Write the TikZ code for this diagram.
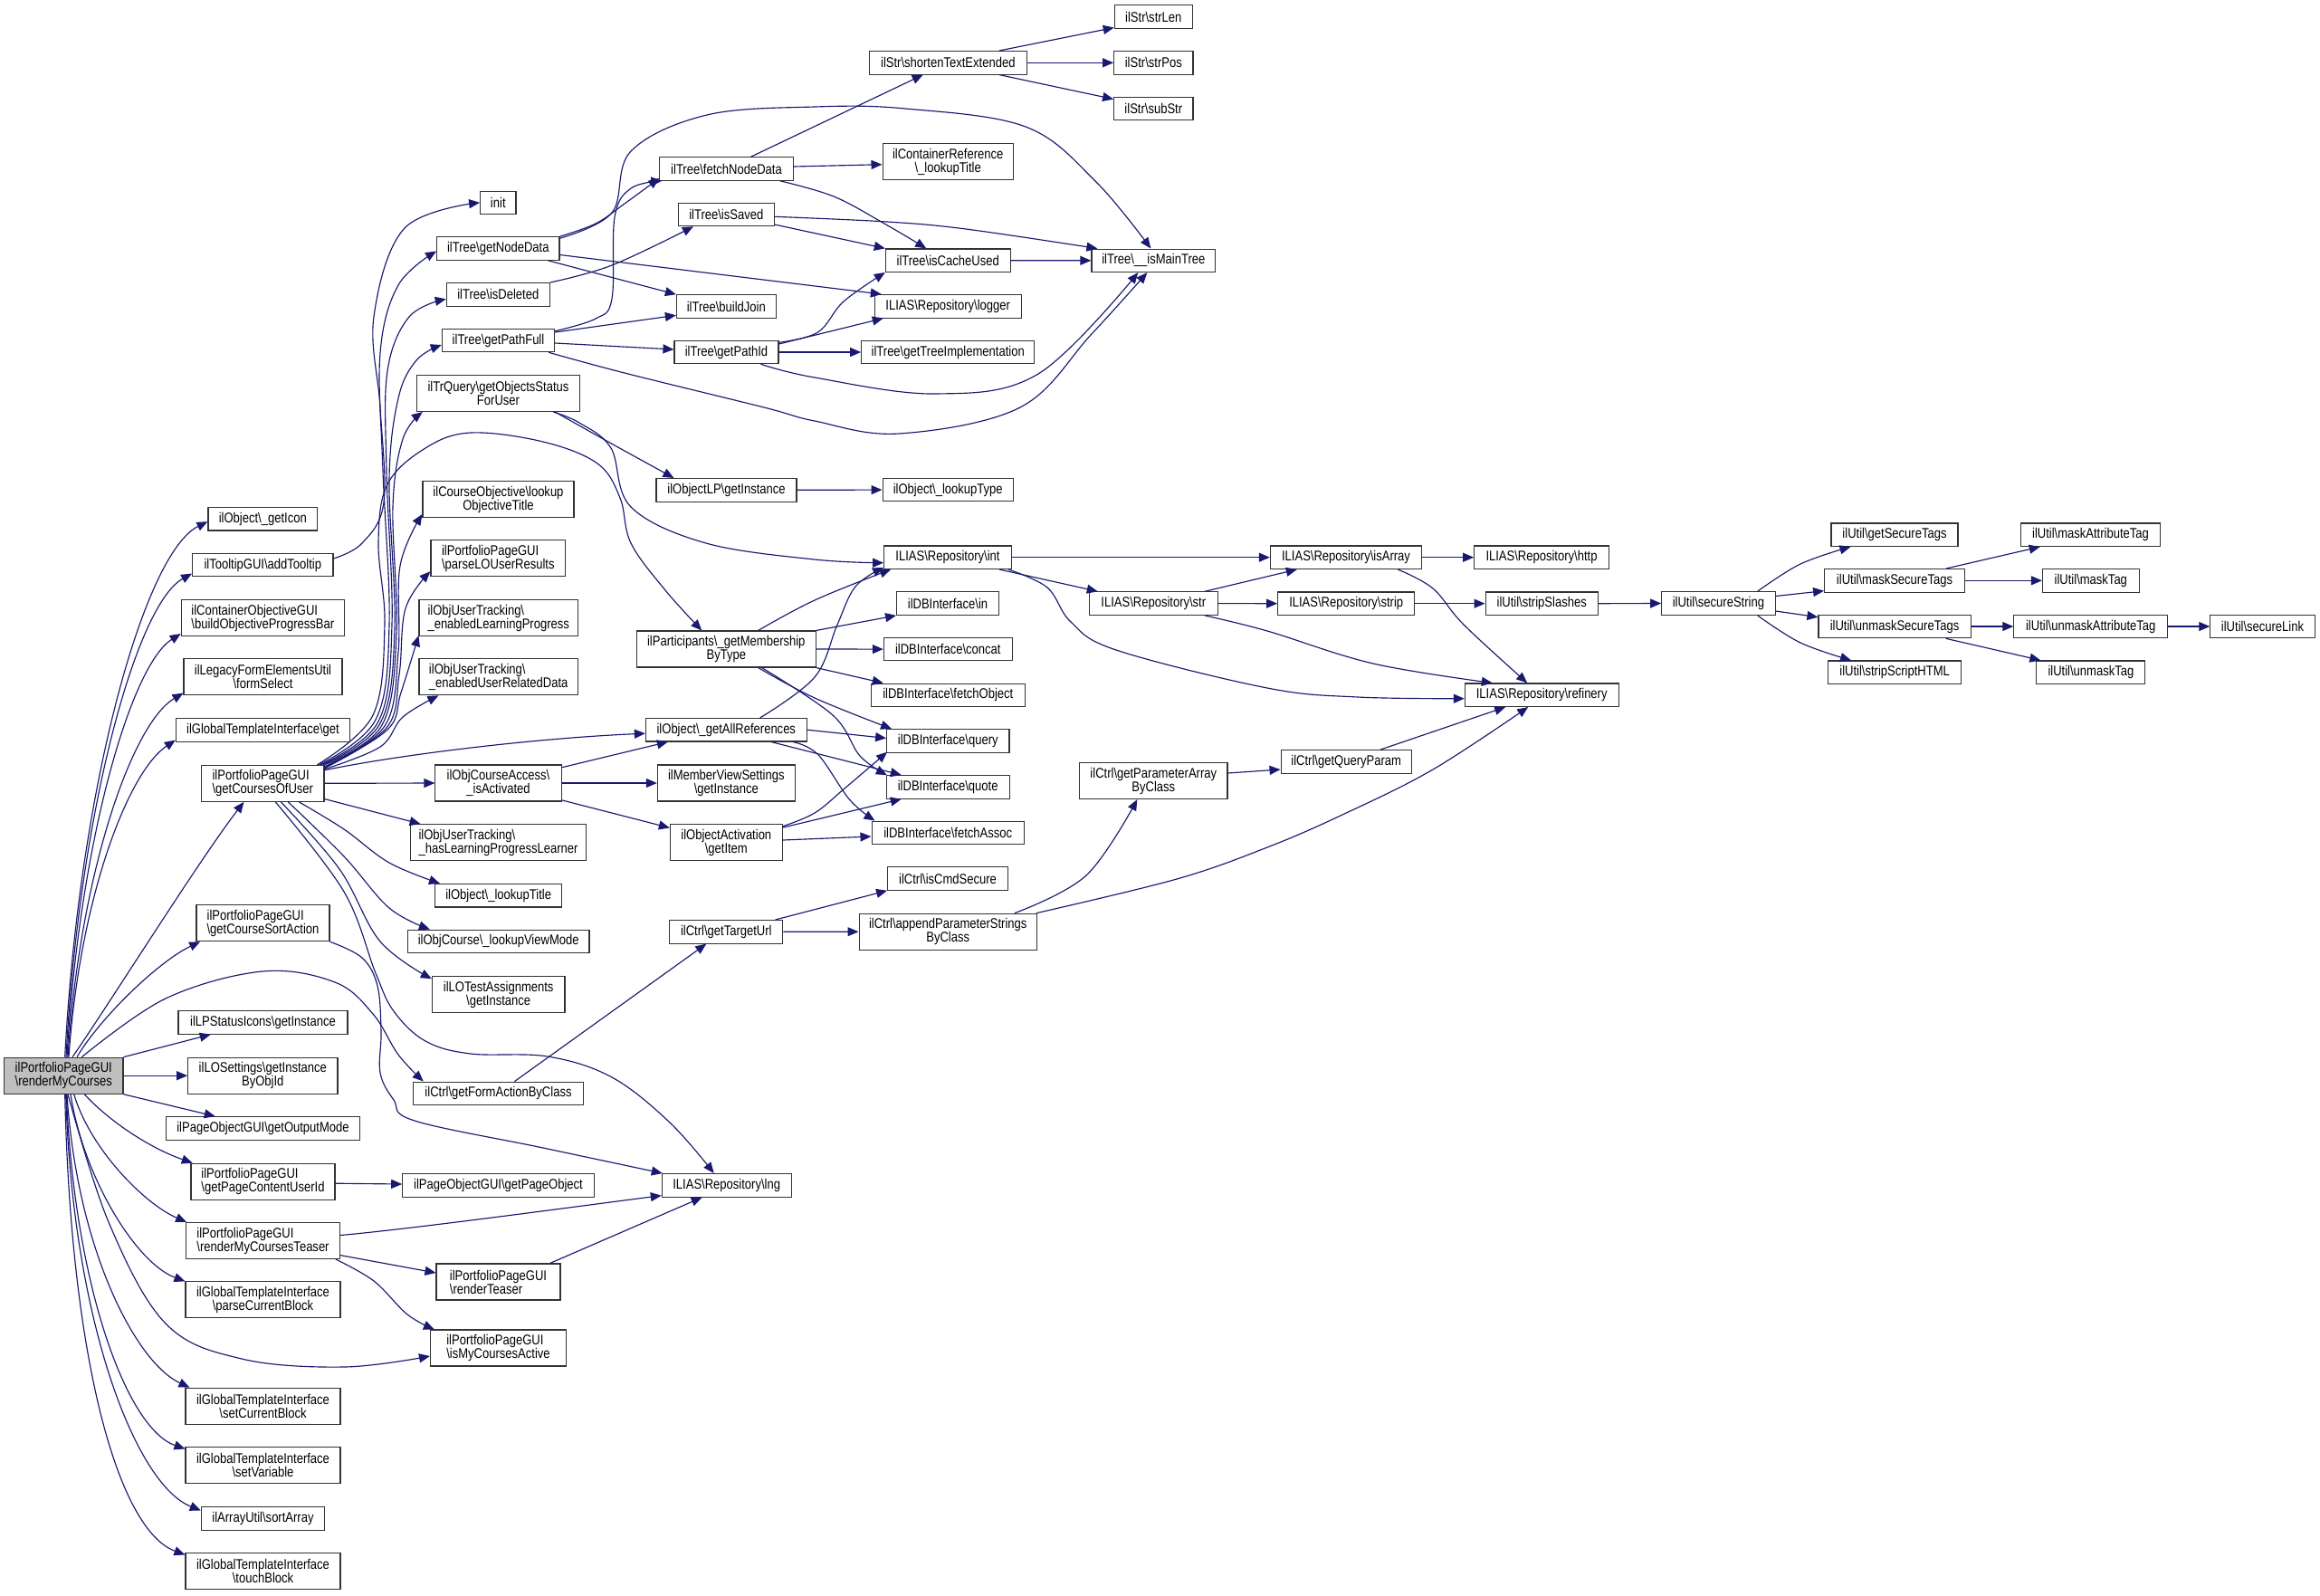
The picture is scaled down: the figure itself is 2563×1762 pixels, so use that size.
\documentclass[tikz,border=0pt]{standalone}
\usepackage{fontspec}
\setmainfont{Liberation Sans}[FakeStretch=0.84]
\usetikzlibrary{arrows.meta}
\definecolor{edgeblue}{HTML}{191970}
\definecolor{rootgray}{HTML}{BFBFBF}
\newcommand{\bksl}{\textbackslash}
\begin{document}
\begin{tikzpicture}[x=1pt,y=-1pt,
  box/.style={draw=black!80,line width=1.1pt,fill=white,inner sep=0pt,
    font=\fontsize{15.5pt}{15pt}\selectfont,align=center,minimum height=25.5pt},
  tall/.style={minimum height=40pt},
  lft/.style={align=left},
  cg/.style={draw=edgeblue,line width=1.15pt,-{Triangle[length=12pt,width=10pt]}}]
\useasboundingbox (0,0) rectangle (2563,1762);

% root
\node[box,tall,lft,fill=rootgray,minimum width=131.3] (rmc) at (70.3,1188.2) {ilPortfolioPageGUI\\\bksl renderMyCourses};

% column 2
\node[box,minimum width=120.7] (geticon) at (290.3,573.2) {ilObject\bksl\_getIcon};
\node[box,minimum width=155.3] (addtt) at (290.3,624) {ilTooltipGUI\bksl addTooltip};
\node[box,tall,lft,minimum width=180] (bopb) at (290.3,682.5) {ilContainerObjectiveGUI\\\bksl buildObjectiveProgressBar};
\node[box,tall,minimum width=175] (fsel) at (290.5,747.8) {ilLegacyFormElementsUtil\\\bksl formSelect};
\node[box,minimum width=192.3] (gtiget) at (290.5,806.6) {ilGlobalTemplateInterface\bksl get};
\node[box,tall,lft,minimum width=135.3] (gcu) at (290.3,865.3) {ilPortfolioPageGUI\\\bksl getCoursesOfUser};
\node[box,tall,lft,minimum width=147] (gcsa) at (290.5,1019.7) {ilPortfolioPageGUI\\\bksl getCourseSortAction};
\node[box,minimum width=187] (lpsi) at (290.5,1129.4) {ilLPStatusIcons\bksl getInstance};
\node[box,tall,minimum width=165.3] (los) at (290.3,1188.2) {ilLOSettings\bksl getInstance\\ByObjId};
\node[box,minimum width=213.7] (pogom) at (290.5,1246.4) {ilPageObjectGUI\bksl getOutputMode};
\node[box,tall,lft,minimum width=159] (gpcu) at (290.5,1305.2) {ilPortfolioPageGUI\\\bksl getPageContentUserId};
\node[box,tall,lft,minimum width=169.7] (rmct) at (290.5,1370.5) {ilPortfolioPageGUI\\\bksl renderMyCoursesTeaser};
\node[box,tall,minimum width=171] (pcb) at (290.5,1435.9) {ilGlobalTemplateInterface\\\bksl parseCurrentBlock};
\node[box,tall,minimum width=171] (scb) at (290.5,1553.2) {ilGlobalTemplateInterface\\\bksl setCurrentBlock};
\node[box,tall,minimum width=171] (sv) at (290.5,1618.6) {ilGlobalTemplateInterface\\\bksl setVariable};
\node[box,minimum width=136.3] (sa) at (290.5,1677.5) {ilArrayUtil\bksl sortArray};
\node[box,tall,minimum width=171] (tb) at (290.5,1735.9) {ilGlobalTemplateInterface\\\bksl touchBlock};

% column 3
\node[box,minimum width=39.3] (init) at (550.3,223.8) {init};
\node[box,minimum width=135.3] (gnd) at (550.3,274.5) {ilTree\bksl getNodeData};
\node[box,minimum width=114] (isdel) at (550.3,325.3) {ilTree\bksl isDeleted};
\node[box,minimum width=124.3] (gpf) at (550.5,376) {ilTree\bksl getPathFull};
\node[box,tall,minimum width=180.3] (trq) at (550.5,434.5) {ilTrQuery\bksl getObjectsStatus\\ForUser};
\node[box,tall,minimum width=167] (cobj) at (550.5,551.5) {ilCourseObjective\bksl lookup\\ObjectiveTitle};
\node[box,tall,lft,minimum width=148.7] (plo) at (550.3,616.7) {ilPortfolioPageGUI\\\bksl parseLOUserResults};
\node[box,tall,lft,minimum width=175.4] (elp) at (550.7,682.5) {ilObjUserTracking\bksl\\\_enabledLearningProgress};
\node[box,tall,lft,minimum width=175.4] (eurd) at (550.7,747.8) {ilObjUserTracking\bksl\\\_enabledUserRelatedData};
\node[box,tall,minimum width=139.2] (isact) at (550.5,865) {ilObjCourseAccess\bksl\\\_isActivated};
\node[box,tall,lft,minimum width=194.7] (hlpl) at (550.5,930.7) {ilObjUserTracking\bksl\\\_hasLearningProgressLearner};
\node[box,minimum width=140.3] (olt) at (550.7,989.2) {ilObject\bksl\_lookupTitle};
\node[box,minimum width=200.6] (ocvm) at (550.7,1039.8) {ilObjCourse\bksl\_lookupViewMode};
\node[box,tall,minimum width=146.6] (lota) at (550.7,1098.7) {ilLOTestAssignments\\\bksl getInstance};
\node[box,minimum width=188.4] (gfabc) at (550.5,1207.8) {ilCtrl\bksl getFormActionByClass};
\node[box,minimum width=211.5] (gpo) at (550.5,1309.3) {ilPageObjectGUI\bksl getPageObject};
\node[box,tall,lft,minimum width=137] (rt) at (550.5,1416) {ilPortfolioPageGUI\\\bksl renderTeaser};
\node[box,tall,lft,minimum width=150] (imca) at (550.5,1489) {ilPortfolioPageGUI\\\bksl isMyCoursesActive};

% column 4
\node[box,minimum width=147.3] (fnd) at (802.5,186.5) {ilTree\bksl fetchNodeData};
\node[box,minimum width=105.6] (issaved) at (802.3,237) {ilTree\bksl isSaved};
\node[box,minimum width=109.8] (bj) at (802.3,338.5) {ilTree\bksl buildJoin};
\node[box,minimum width=115] (gpid) at (802.5,389) {ilTree\bksl getPathId};
\node[box,minimum width=155] (olpgi) at (802.5,541.3) {ilObjectLP\bksl getInstance};
\node[box,tall,minimum width=197.5] (part) at (802.3,717) {ilParticipants\bksl\_getMembership\\ByType};
\node[box,minimum width=177.8] (gar) at (802.3,806.2) {ilObject\bksl\_getAllReferences};
\node[box,tall,minimum width=151.9] (mvs) at (802.3,865) {ilMemberViewSettings\\\bksl getInstance};
\node[box,tall,minimum width=123.8] (oagi) at (802.3,930.7) {ilObjectActivation\\\bksl getItem};
\node[box,minimum width=125.2] (gtu) at (802.3,1029.3) {ilCtrl\bksl getTargetUrl};
\node[box,minimum width=142.7] (lng) at (802.7,1309.3) {ILIAS\bksl Repository\bksl lng};

% column 5
\node[box,minimum width=174] (ste) at (1047.3,69.3) {ilStr\bksl shortenTextExtended};
\node[box,tall,minimum width=144.3] (crlt) at (1047.2,178.7) {ilContainerReference\\\bksl\_lookupTitle};
\node[box,minimum width=137.7] (icu) at (1047.2,287.7) {ilTree\bksl isCacheUsed};
\node[box,minimum width=161.7] (logger) at (1047.2,338.3) {ILIAS\bksl Repository\bksl logger};
\node[box,minimum width=191] (gti) at (1047.2,389) {ilTree\bksl getTreeImplementation};
\node[box,minimum width=144.3] (olt2) at (1047.2,541.1) {ilObject\bksl\_lookupType};
\node[box,minimum width=140.7] (rint) at (1047,615.7) {ILIAS\bksl Repository\bksl int};
\node[box,minimum width=112.7] (dbin) at (1047,666.6) {ilDBInterface\bksl in};
\node[box,minimum width=142] (dbcc) at (1047.3,717.1) {ilDBInterface\bksl concat};
\node[box,minimum width=170] (dbfo) at (1047.3,767.8) {ilDBInterface\bksl fetchObject};
\node[box,minimum width=135.3] (dbq) at (1047.3,818.4) {ilDBInterface\bksl query};
\node[box,minimum width=135.7] (dbqt) at (1047.2,869.4) {ilDBInterface\bksl quote};
\node[box,minimum width=168.3] (dbfa) at (1047.2,919.8) {ilDBInterface\bksl fetchAssoc};
\node[box,minimum width=132.7] (ics) at (1047,970.5) {ilCtrl\bksl isCmdSecure};
\node[box,tall,minimum width=196.3] (apsc) at (1047.2,1029.2) {ilCtrl\bksl appendParameterStrings\\ByClass};

% column 6
\node[box,minimum width=86] (strlen) at (1274.3,18.5) {ilStr\bksl strLen};
\node[box,minimum width=87.3] (strpos) at (1274.3,69.3) {ilStr\bksl strPos};
\node[box,minimum width=87.3] (substr) at (1274.3,119.8) {ilStr\bksl subStr};
\node[box,minimum width=136.7] (imt) at (1274.3,287.8) {ilTree\bksl\_\_isMainTree};
\node[box,minimum width=142] (rstr) at (1274.3,666.6) {ILIAS\bksl Repository\bksl str};
\node[box,tall,minimum width=163.3] (gpabc) at (1274.3,862.6) {ilCtrl\bksl getParameterArray\\ByClass};

% column 7
\node[box,minimum width=167.3] (isarr) at (1487,615.7) {ILIAS\bksl Repository\bksl isArray};
\node[box,minimum width=151] (strip) at (1487.2,666.7) {ILIAS\bksl Repository\bksl strip};
\node[box,minimum width=144.3] (gqp) at (1487.2,841.3) {ilCtrl\bksl getQueryParam};

% column 8
\node[box,minimum width=148.7] (http) at (1703,615.7) {ILIAS\bksl Repository\bksl http};
\node[box,minimum width=124.3] (ss) at (1703.2,666.7) {ilUtil\bksl stripSlashes};
\node[box,minimum width=169.7] (ref) at (1703.2,767.7) {ILIAS\bksl Repository\bksl refinery};

% column 9-12
\node[box,minimum width=125.3] (secstr) at (1898.4,666.5) {ilUtil\bksl secureString};
\node[box,minimum width=140] (gst) at (2093,590.7) {ilUtil\bksl getSecureTags};
\node[box,minimum width=154.8] (mst) at (2093,641.3) {ilUtil\bksl maskSecureTags};
\node[box,minimum width=168.1] (umst) at (2093,692) {ilUtil\bksl unmaskSecureTags};
\node[box,minimum width=147] (ssh) at (2093.1,742.7) {ilUtil\bksl stripScriptHTML};
\node[box,minimum width=154.4] (mat) at (2309.5,590.7) {ilUtil\bksl maskAttributeTag};
\node[box,minimum width=106.7] (mtag) at (2309.8,641.3) {ilUtil\bksl maskTag};
\node[box,minimum width=169.7] (umat) at (2309.7,692) {ilUtil\bksl unmaskAttributeTag};
\node[box,minimum width=120] (umtag) at (2309.9,742.7) {ilUtil\bksl unmaskTag};
\node[box,minimum width=115.3] (slink) at (2499.5,692) {ilUtil\bksl secureLink};

% ---------- edges from root
\draw[cg] ([xshift=1.4pt]rmc.north) .. controls (87,872) and (159,611) .. ([yshift=-3pt]geticon.west);
\draw[cg] ([xshift=2.7pt]rmc.north) .. controls (87,900) and (150,668) .. ([yshift=3.75pt]addtt.south west);
\draw[cg] ([xshift=3.7pt]rmc.north) .. controls (87,934) and (144,735) .. ([yshift=3pt]bopb.south west);
\draw[cg] ([xshift=4.7pt]rmc.north) .. controls (88,967) and (145,800) .. ([yshift=2.8pt]fsel.south west);
\draw[cg] ([xshift=5.7pt]rmc.north) .. controls (88,993) and (141,853) .. ([yshift=2.35pt]gtiget.south west);
\draw[cg] ([xshift=9.7pt]rmc.north) .. controls (120,1110) and (220,950) .. ([xshift=47.35pt]gcu.south west);
\draw[cg] ([xshift=14.7pt]rmc.north) .. controls (110,1125) and (175,1062) .. ([xshift=4.7pt]gcsa.south west);
\draw[cg] (rmc.north east) -- ([xshift=36.3pt]lpsi.south west);
\draw[cg] (rmc.east) -- (los.west);
\draw[cg] plot[smooth,tension=0.6] coordinates {([xshift=20pt]rmc.north) (183,1103) (290,1073) (370,1085) (412,1120) (440,1165) ([xshift=12pt]gfabc.north west)};
\draw[cg] (rmc.south east) -- ([xshift=54.65pt]pogom.north west);
\draw[cg] ([xshift=23pt]rmc.south) .. controls (120,1238) and (165,1268) .. ([xshift=2.3pt]gpcu.north west);
\draw[cg] ([xshift=11.4pt]rmc.south) .. controls (100,1270) and (160,1330) .. ([xshift=1pt]rmct.north west);
\draw[cg] ([xshift=7.7pt]rmc.south) .. controls (92,1300) and (150,1395) .. (pcb.north west);
\draw[cg] plot[smooth,tension=0.6] coordinates {([xshift=4.7pt]rmc.south) (120,1350) (183,1462) (267,1501) (380,1510) ([yshift=-9pt]imca.west)};
\draw[cg] ([xshift=3.7pt]rmc.south) .. controls (85,1380) and (150,1505) .. ([xshift=5pt]scb.north west);
\draw[cg] ([xshift=3pt]rmc.south) .. controls (82,1420) and (140,1578) .. ([yshift=-2.4pt]sv.north west);
\draw[cg] ([xshift=2.4pt]rmc.south) .. controls (80,1460) and (150,1640) .. ([yshift=-4.25pt]sa.north west);
\draw[cg] ([xshift=1.4pt]rmc.south) .. controls (78,1500) and (130,1690) .. ([yshift=-2.1pt]tb.north west);

% ---------- column 2 sources
\draw[cg] plot[smooth,tension=0.6] coordinates {([yshift=7pt]addtt.east) (400,600) (424,555) (420,450) (413,350) (447,252) (init.west)};
\draw[cg] plot[smooth,tension=0.6] coordinates {([xshift=-6pt]gcu.north east) (415,795) (430,690) (423,520) (420,390) (440,315) ([yshift=-3pt]gnd.west)};
\draw[cg] plot[smooth,tension=0.6] coordinates {([xshift=-4pt]gcu.north east) (418,797) (433,690) (427,520) (428,410) (452,350) ([yshift=-5pt]isdel.west)};
\draw[cg] plot[smooth,tension=0.6] coordinates {([xshift=-2pt]gcu.north east) (420,799) (436,695) (430,530) (440,440) (460,398) ([yshift=-5pt]gpf.west)};
\draw[cg] plot[smooth,tension=0.6] coordinates {(gcu.north east) (422,801) (438,700) (434,560) (445,485) ([xshift=7pt]trq.south west)};
\draw[cg] plot[smooth,tension=0.6] coordinates {([yshift=-2pt]gcu.north east) (425,802) (440,720) (442,625) ([yshift=4pt]cobj.south west)};
\draw[cg] plot[smooth,tension=0.6] coordinates {([yshift=-3pt]gcu.north east) (427,804) (441,745) (448,672) ([yshift=6pt]plo.south west)};
\draw[cg] plot[smooth,tension=0.6] coordinates {([yshift=-4pt]gcu.north east) (428,806) (443,765) ([yshift=1pt]elp.south west)};
\draw[cg] plot[smooth,tension=0.6] coordinates {([yshift=-5pt]gcu.north east) (420,825) (445,792) ([xshift=22pt]eurd.south west)};
\draw[cg] plot[smooth,tension=0.6] coordinates {([xshift=-8pt]gcu.north east) (412,790) (425,690) (418,600) (428,535) (470,495) (520,478) (600,488) (660,512) (685,550) (697,600) (735,652) ([xshift=-27pt]part.north)};
\draw[cg] ([yshift=-6pt]gcu.north east) .. controls (450,832) and (600,815) .. ([yshift=-4pt]gar.west);
\draw[cg] (gcu.east) -- (isact.west);
\draw[cg] ([yshift=3.3pt]gcu.south east) -- ([xshift=12pt]hlpl.north west);
\draw[cg] plot[smooth,tension=0.6] coordinates {([xshift=40pt]gcu.south) (380,916) (430,953) ([xshift=6pt]olt.north west)};
\draw[cg] plot[smooth,tension=0.6] coordinates {([xshift=28pt]gcu.south) (380,946) (430,1003) ([xshift=25pt]ocvm.north west)};
\draw[cg] plot[smooth,tension=0.6] coordinates {([xshift=20pt]gcu.south) (375,960) (420,1040) ([yshift=-3pt]lota.north west)};
\draw[cg] plot[smooth,tension=0.6] coordinates {([xshift=14pt]gcu.south) (380,985) (415,1075) (435,1117) (470,1150) (520,1164) (605,1167) (676,1190) (740,1240) ([xshift=-14pt]lng.north)};
\draw[cg] plot[smooth,tension=0.6] coordinates {(gcsa.south east) (400,1058) (417,1089) (421,1140) (420,1185) (435,1215) (458,1238) (600,1268) ([xshift=1pt]lng.north west)};
\draw[cg] ([yshift=6pt]rmct.east) .. controls (450,1358) and (620,1335) .. ([yshift=2pt]lng.south west);
\draw[cg] ([yshift=4.5pt]rmct.south east) -- ([yshift=10pt]rt.west);
\draw[cg] plot[smooth,tension=0.6] coordinates {([xshift=-5pt]rmct.south east) (413,1415) (450,1452) ([xshift=5pt]imca.north west)};
\draw[cg] ([xshift=-12pt]rt.north east) -- ([xshift=-27pt]lng.south);
\draw[cg] ([yshift=-2pt]gpcu.east) -- ([yshift=1.3pt]gpo.west);

% ---------- column 3 sources
\draw[cg] plot[smooth,tension=0.6] coordinates {([xshift=-28pt]trq.south east) (675.5,490) ([xshift=20pt]olpgi.north west)};
\draw[cg] plot[smooth,tension=0.6] coordinates {([xshift=-30pt]trq.south east) (640,467) (675,495) (697,560) (780,600) (900,618) ([yshift=-6pt]rint.west)};
\draw[cg] plot[smooth,tension=0.6] coordinates {(gnd.north east) (658,247) (690,225) ([yshift=3pt]fnd.south west)};
\draw[cg] plot[smooth,tension=0.6] coordinates {([yshift=-3pt]gpf.north east) (658,352) (676,330) (679,240) (697,208) ([xshift=3pt]fnd.south west)};
\draw[cg] plot[smooth,tension=0.6] coordinates {([yshift=-2pt]gnd.north east) (676,235) (697,167) (781,127) (900,118) (1000,120) (1133,140) (1210,200) ([xshift=-3pt]imt.north)};
\draw[cg] ([xshift=-13pt]gnd.south east) -- (bj.north west);
\draw[cg] ([yshift=-7pt]gnd.east) -- ([xshift=8pt]logger.north west);
\draw[cg] plot[smooth,tension=0.6] coordinates {(isdel.north east) (676,293) ([xshift=17pt]issaved.south west)};
\draw[cg] ([yshift=9pt]gpf.east) -- ([yshift=-9.8pt]bj.west);
\draw[cg] ([yshift=-3pt]gpf.east) -- ([yshift=3pt]gpid.west);
\draw[cg] plot[smooth,tension=0.6] coordinates {([xshift=-7pt]gpf.south east) (690,412) (844,450) (900,465) (993,479) (1127,450) (1205,370) ([xshift=-7pt]imt.south)};
\draw[cg] ([yshift=-3.3pt]isact.north east) -- ([xshift=25pt]gar.south west);
\draw[cg] (isact.east) -- (mvs.west);
\draw[cg] ([yshift=1.7pt]isact.south east) -- ([yshift=-4.3pt]oagi.north west);
\draw[cg] ([xshift=18pt]gfabc.north) -- ([xshift=-22pt]gtu.south);

% ---------- column 4 sources
\draw[cg] plot[smooth,tension=0.6] coordinates {([yshift=-2.3pt]issaved.east) (980,245) (1067,253) ([xshift=7pt]imt.north west)};
\draw[cg] ([yshift=-11pt]issaved.east) -- (icu.north west);
\draw[cg] ([xshift=27pt]fnd.north) -- ([xshift=60pt]ste.south west);
\draw[cg] ([yshift=2.5pt]fnd.east) -- ([yshift=-3pt]crlt.west);
\draw[cg] plot[smooth,tension=0.6] coordinates {([xshift=-15pt]fnd.south east) (921,217) (977,247) ([xshift=-24pt]icu.north)};
\draw[cg] plot[smooth,tension=0.6] coordinates {([yshift=10.7pt]gpid.east) (903.5,367) (932,333) (icu.south west)};
\draw[cg] ([yshift=9pt]gpid.east) -- ([xshift=10pt]logger.south west);
\draw[cg] (gpid.east) -- (gti.west);
\draw[cg] plot[smooth,tension=0.6] coordinates {([xshift=-20pt]gpid.south east) (900,417) (1033,435) (1147,413) ([xshift=-17pt]imt.south)};
\draw[cg] (olpgi.east) -- (olt2.west);
\draw[cg] plot[smooth,tension=0.6] coordinates {([xshift=-64pt]part.north east) (900,663) ([xshift=8pt]rint.south west)};
\draw[cg] (part.north east) -- (dbin.south west);
\draw[cg] (part.east) -- (dbcc.west);
\draw[cg] (part.south east) -- ([xshift=14pt]dbfo.north west);
\draw[cg] plot[smooth,tension=0.6] coordinates {([xshift=-64pt]part.south east) (900,771) ([xshift=6pt]dbq.north west)};
\draw[cg] plot[smooth,tension=0.6] coordinates {([xshift=-60pt]part.south east) (920,790) (950,835) ([xshift=1pt]dbqt.north west)};
\draw[cg] plot[smooth,tension=0.6] coordinates {([xshift=-52pt]gar.north east) (900,748) (925,690) (945,648) ([yshift=2pt]rint.south west)};
\draw[cg] (gar.east) -- ([yshift=3pt]dbq.west);
\draw[cg] ([xshift=-40pt]gar.south east) -- ([xshift=17pt]dbqt.north west);
\draw[cg] plot[smooth,tension=0.6] coordinates {([xshift=-16pt]gar.south east) (903.5,833.3) (938.6,883.3) ([xshift=4pt]dbfa.north west)};
\draw[cg] plot[smooth,tension=0.6] coordinates {([yshift=-2.6pt]oagi.north east) (900,898) (933,871) ([xshift=1pt,yshift=1pt]dbq.south west)};
\draw[cg] ([yshift=-4pt]oagi.north east) -- ([xshift=17pt]dbqt.south west);
\draw[cg] ([yshift=2.7pt]oagi.east) -- ([yshift=-4.2pt]dbfa.west);
\draw[cg] ([xshift=-9pt]gtu.north east) -- (ics.south west);
\draw[cg] (gtu.east) -- (apsc.west);

% ---------- column 5+ sources
\draw[cg] ([xshift=-31pt]ste.north east) -- ([yshift=1.3pt]strlen.south west);
\draw[cg] (ste.east) -- (strpos.west);
\draw[cg] ([xshift=-31pt]ste.south east) -- ([yshift=-3pt]substr.north west);
\draw[cg] (icu.east) -- (imt.west);
\draw[cg] (rint.east) -- (isarr.west);
\draw[cg] ([xshift=-14pt]rint.south east) -- ([xshift=10pt]rstr.north west);
\draw[cg] plot[smooth,tension=0.6] coordinates {([xshift=-4pt]rint.south east) (1157,649) (1183,687) (1233,718) (1400,760) (1500,770) ([yshift=-4pt]ref.west)};
\draw[cg] plot[smooth,tension=0.6] coordinates {([xshift=-25pt]apsc.north east) (1200,967) ([xshift=-18pt]gpabc.south)};
\draw[cg] plot[smooth,tension=0.6] coordinates {([xshift=-1pt]apsc.north east) (1300,971) (1400,936) (1483,900) (1583,850) ([xshift=-15pt]ref.south)};
\draw[cg] ([xshift=-15pt]rstr.north east) -- ([xshift=30pt]isarr.south west);
\draw[cg] (rstr.east) -- (strip.west);
\draw[cg] plot[smooth,tension=0.6] coordinates {([xshift=-15pt]rstr.south east) (1400,697) (1517,733) ([xshift=31pt]ref.north west)};
\draw[cg] ([yshift=8.6pt]gpabc.east) -- ([yshift=-8.7pt]gqp.west);
\draw[cg] (isarr.east) -- (http.west);
\draw[cg] plot[smooth,tension=0.6] coordinates {([xshift=-27pt]isarr.south east) (1583,650) (1617,690) ([xshift=-16pt]ref.north)};
\draw[cg] (strip.east) -- (ss.west);
\draw[cg] ([xshift=38pt]gqp.north) -- ([xshift=-40pt]ref.south);
\draw[cg] (ss.east) -- (secstr.west);
\draw[cg] plot[smooth,tension=0.6] coordinates {([xshift=-20pt]secstr.north east) (1989,623) ([xshift=22pt]gst.south west)};
\draw[cg] ([yshift=8pt]secstr.east) -- ([yshift=-11.4pt]mst.west);
\draw[cg] ([yshift=-8.5pt]secstr.east) -- ([yshift=10.3pt]umst.west);
\draw[cg] plot[smooth,tension=0.6] coordinates {([xshift=-20pt]secstr.south east) (1989,710) ([xshift=26pt]ssh.north west)};
\draw[cg] ([xshift=-21pt]mst.north east) -- ([xshift=22pt]mat.south west);
\draw[cg] (mst.east) -- (mtag.west);
\draw[cg] (umst.east) -- (umat.west);
\draw[cg] ([xshift=-28pt]umst.south east) -- ([xshift=5pt]umtag.north west);
\draw[cg] (umat.east) -- (slink.west);
\end{tikzpicture}
\end{document}
